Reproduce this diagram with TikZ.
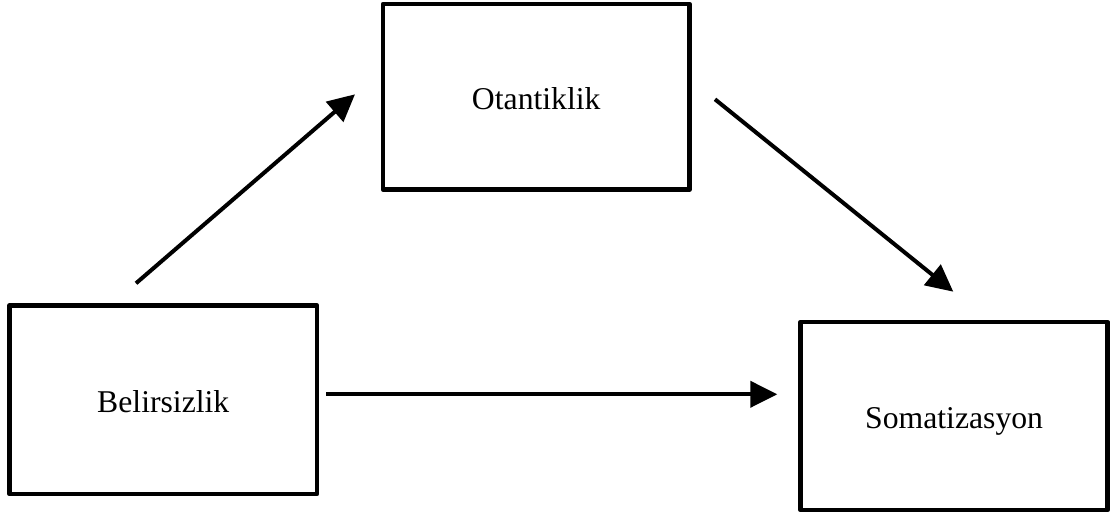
\documentclass[tikz,border=0pt]{standalone}
\usepackage{fontspec}
\setmainfont{Liberation Serif}
\usetikzlibrary{arrows.meta}
\begin{document}
\begin{tikzpicture}[x=1pt,y=-1pt,
  box/.style={draw,line width=4.5pt,line join=round,rectangle,inner sep=0pt,
    font=\fontsize{31.7}{38}\selectfont,text height=25pt,text depth=0pt},
  conn/.style={line width=4pt,-{Triangle[length=27pt,width=26pt]}}]
\useasboundingbox (0,0) rectangle (1111,513);
\node[box,minimum width=307.5pt,minimum height=188.5pt] (bel) at (163.25,399.75) {Belirsizlik};
\node[box,minimum width=306.5pt,minimum height=185.5pt] (ota) at (536.25,96.75) {Otantiklik};
\node[box,minimum width=307.2pt,minimum height=188pt] (som) at (954.1,416) {Somatizasyon};
\coordinate (a1s) at (136,283.3);
\coordinate (a1e) at (355,94.3);
\coordinate (a2s) at (715,99.3);
\coordinate (a2e) at (953.3,291.7);
\coordinate (a3s) at (326,394.3);
\coordinate (a3e) at (777.3,394.3);
\draw[conn] (a1s) -- (a1e);
\draw[conn] (a2s) -- (a2e);
\draw[conn] (a3s) -- (a3e);
\end{tikzpicture}
\end{document}
